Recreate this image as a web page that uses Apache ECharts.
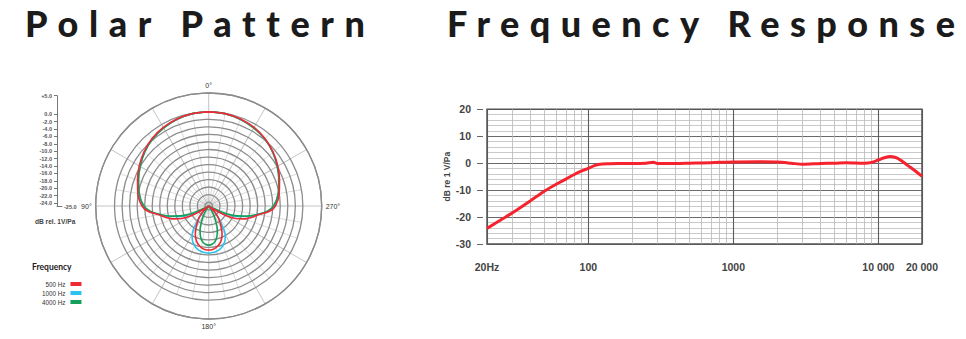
<!DOCTYPE html>
<html><head><meta charset="utf-8">
<script src="https://cdn.jsdelivr.net/npm/echarts@6/dist/echarts.min.js"></script>
<style>html,body{margin:0;padding:0;background:#fff}#c{width:966px;height:339px}</style>
</head><body><div id="c"></div>
<script>
// ---------- Polar pattern data (dB rel. 1V/Pa vs angle in degrees) ----------
const polarAngles = [0,10,20,30,40,50,60,70,80,90,95,100,105,110,115,120,125,130,135,140,145,150,155,160,165,170,175,180,185,190,195,200,205,210,215,220,225,230,235,240,245,250,255,260,265,270,280,290,300,310,320,330,340,350,360];
const red500 = [0,-0.1,-0.4,-0.9,-1.6,-2.6,-3.7,-4.9,-5.9,-7.3,-8.8,-11.6,-13.3,-15.0,-17.2,-20.3,-24.5,-25,-23.0,-21.3,-19.8,-18.3,-16.6,-15.3,-14.4,-13.8,-13.4,-13.3,
  -13.4,-13.8,-14.4,-15.3,-16.6,-18.3,-19.8,-21.3,-23.0,-25,-24.5,-20.3,-17.2,-15.0,-13.3,-11.6,-8.8,
  -7.3,-6.0,-5.0,-3.8,-2.7,-1.7,-0.9,-0.4,-0.1,0];
const blue1000 = [0,-0.1,-0.5,-1.0,-1.8,-2.8,-4.0,-5.1,-6.2,-7.6,-9.1,-11.9,-14.2,-16.8,-20.3,-24.0,-25,-24.3,-22.6,-20.9,-18.8,-16.2,-14.8,-13.9,-13.2,-12.8,-12.6,-12.5,
  -12.6,-12.8,-13.2,-13.9,-14.8,-16.2,-18.8,-20.9,-22.6,-24.3,-25,-24.0,-20.3,-16.8,-14.2,-11.9,-9.1,
  -7.6,-6.2,-5.1,-4.0,-2.8,-1.8,-1.0,-0.5,-0.1,0];
const green4000 = [0,-0.1,-0.5,-1.1,-1.8,-2.8,-4.0,-5.2,-6.3,-7.8,-9.4,-12.0,-14.6,-17.5,-21.3,-25,-25,-25,-25,-25,-24.3,-22.6,-20.6,-18.3,-16.6,-15.4,-14.8,-14.6,
  -14.8,-15.4,-16.6,-18.3,-20.6,-22.6,-24.3,-25,-25,-25,-25,-25,-21.3,-17.5,-14.6,-12.0,-9.4,
  -7.8,-6.3,-5.2,-4.0,-2.8,-1.8,-1.1,-0.5,-0.1,0];
const polarRings = [-24,-22,-20,-18,-16,-14,-12,-10,-8,-6,-4,-2,0,5];
const scaleLabels = [5,0,-2,-4,-6,-8,-10,-12,-14,-16,-18,-20,-22,-24];
const angleLabels = [0,90,180,270];
const seriesNames = ['500 Hz','1000 Hz','4000 Hz'];

// ---------- Frequency response data ----------
const freqHz = [20,25,30,40,50,60,70,80,90,100,110,120,140,160,200,250,280,300,400,500,600,800,1000,1500,2000,2500,3000,4000,5000,6000,8000,9000,10000,11000,12000,13000,14000,16000,18000,20000];
const freqDb = [-24.2,-21.0,-18.4,-13.9,-10.3,-7.8,-5.9,-4.2,-2.9,-1.9,-0.9,-0.4,-0.2,-0.1,-0.1,0.0,0.3,-0.1,-0.1,0.0,0.1,0.3,0.4,0.5,0.4,0.0,-0.4,-0.1,0.0,0.2,0.0,0.3,1.2,2.0,2.5,2.2,1.4,-0.9,-2.9,-4.9];
const xTickValues = [20,100,1000,10000,20000];
const xTickLabels = ['20Hz','100','1000','10 000','20 000'];
const xGridValues = [30,40,50,60,70,80,90,200,300,400,500,600,700,800,900,2000,3000,4000,5000,6000,7000,8000,9000];

const headings = ['Polar Pattern','Frequency Response'];
const headingWidths = [340, 508];

const chart = echarts.init(document.getElementById('c'), null, {renderer:'svg'});
const CX = 208.7, CY = 206, R = 113;
const colors = ['#ee2a35','#2cc3f0','#14a05a'];
const polarData = [red500, blue1000, green4000];

function polarSeries(i){
  return {
    name: seriesNames[i], type:'line', coordinateSystem:'polar', polarIndex:0,
    data: polarAngles.map((a,k)=>[polarData[i][k], a]),
    symbol:'none', smooth:0.35, z: i===0?5:(i===2?4:3),
    lineStyle:{color:colors[i], width:1.6}, itemStyle:{color:colors[i]}
  };
}

const option = {
  animation:false,
  backgroundColor:'#fff',
  title:[
    {text:headings[0], left:25, top:5, padding:0, textStyle:{fontFamily:'Lato', fontWeight:900, fontSize:36, color:'#1b1b1b'}},
    {text:headings[1], left:447, top:5, padding:0, textStyle:{fontFamily:'Lato', fontWeight:900, fontSize:36, color:'#1b1b1b'}},
    {text:'Frequency', left:32, top:262, padding:0, textStyle:{fontFamily:'Lato', fontWeight:'bold', fontSize:8.5, color:'#222'}},
    {text:'dB rel. 1V/Pa', left:35, top:218, padding:0, textStyle:{fontFamily:'Liberation Sans', fontWeight:'bold', fontSize:6.6, color:'#444'}}
  ],
  legend:{
    data:seriesNames, orient:'vertical', left:42, top:280, padding:0, align:'right',
    itemWidth:11, itemHeight:4, itemGap:1, icon:'rect',
    textStyle:{fontFamily:'Liberation Sans', fontSize:6.3, color:'#333', lineHeight:8}
  },
  polar:[
    {center:[CX,CY], radius:R},
    {center:[CX,CY], radius:R*25/30}
  ],
  angleAxis:[
    {polarIndex:0, type:'value', min:0, max:360, interval:30, startAngle:90, clockwise:false,
      axisLine:{show:true, lineStyle:{color:'#8c8c8c', width:1.3}},
      axisTick:{show:false},
      axisLabel:{show:true, margin:4, fontSize:7, color:'#333', fontFamily:'Liberation Sans',
        formatter:v=> (angleLabels.indexOf(v)>=0 && v!==360) ? v+'°' : ''},
      splitLine:{show:true, lineStyle:{color:'#c4c4c4', width:1}}, z:0},
    {polarIndex:1, type:'value', min:0, max:360, interval:10, startAngle:90, clockwise:false,
      axisLine:{show:false}, axisTick:{show:false}, axisLabel:{show:false},
      splitLine:{show:true, lineStyle:{color:'#d2d2d2', width:0.8}}, z:-1}
  ],
  radiusAxis:[
    {polarIndex:0, type:'value', min:-25, max:5,
      axisLine:{show:false}, axisLabel:{show:false},
      axisTick:{show:false, customValues:polarRings},
      splitLine:{show:true, lineStyle:{color:'#8c8c8c', width:1.3}}, z:1},
    {polarIndex:1, type:'value', min:-25, max:0, show:false}
  ],
  grid:[
    {left:487, top:109.3, width:435, height:134.7, show:true, borderColor:'#555', borderWidth:1.5, z:1},
    {left:57, top:95.7, width:5, height:111, show:false}
  ],
  xAxis:[
    {gridIndex:0, type:'log', logBase:10, min:20, max:20000, position:'bottom', offset:4,
      axisLine:{show:false},
      axisTick:{show:true, length:6, lineStyle:{color:'#666', width:1}},
      axisLabel:{show:true, margin:13, fontSize:10.5, fontWeight:'bold', color:'#444', fontFamily:'Liberation Sans',
        showMinLabel:true, showMaxLabel:true,
        formatter:v=>{ let best=0; xTickValues.forEach((t,i)=>{ if(Math.abs(Math.log10(t)-Math.log10(v))<Math.abs(Math.log10(xTickValues[best])-Math.log10(v))) best=i; }); return xTickLabels[best]; }},
      splitLine:{show:true, lineStyle:{color:'#5c5c5c', width:1.1}}},
    {gridIndex:1, type:'value', min:0, max:1,
      axisLine:{show:true, onZero:false, lineStyle:{color:'#777', width:1}},
      axisTick:{show:false}, axisLabel:{show:false}, splitLine:{show:false},
      name:'-25.0', nameLocation:'end', nameGap:2,
      nameTextStyle:{fontSize:5.5, color:'#555', fontWeight:'bold', fontFamily:'Liberation Sans', verticalAlign:'middle'}}
  ],
  yAxis:[
    {gridIndex:0, type:'value', min:-30, max:20, interval:10, offset:4,
      axisLine:{show:false},
      axisTick:{show:true, length:6, lineStyle:{color:'#666', width:1}},
      axisLabel:{margin:12, fontSize:10.5, fontWeight:'bold', color:'#444', fontFamily:'Liberation Sans'},
      splitLine:{show:true, lineStyle:{color:'#6a6a6a', width:1}},
      minorTick:{show:false, splitNumber:5},
      minorSplitLine:{show:true, lineStyle:{color:'#bdbdbd', width:0.8}},
      name:'dB re 1 V/Pa', nameLocation:'middle', nameGap:27, nameRotate:90,
      nameTextStyle:{fontSize:8.5, fontWeight:'bold', color:'#444', fontFamily:'Liberation Sans'}},
    {gridIndex:1, type:'value', min:-25, max:5,
      axisLine:{show:true, onZero:false, lineStyle:{color:'#777', width:1}},
      axisTick:{show:true, length:3, customValues:scaleLabels, lineStyle:{color:'#777'}},
      axisLabel:{show:true, margin:5, fontSize:5.5, fontWeight:'bold', color:'#555', fontFamily:'Liberation Sans',
        customValues:scaleLabels, formatter:v=> (v>0?'+':'')+v.toFixed(1)},
      splitLine:{show:false}}
  ],
  series:[
    polarSeries(1), polarSeries(2), polarSeries(0),
    {type:'line', xAxisIndex:0, yAxisIndex:0, data:[], silent:true, z:1,
      markLine:{silent:true, symbol:'none', label:{show:false},
        lineStyle:{color:'#b8b8b8', width:0.8, type:'solid'},
        data: xGridValues.map(v=>({xAxis:v}))}},
    {name:'response', type:'line', xAxisIndex:0, yAxisIndex:0,
      data: freqHz.map((f,i)=>[f, freqDb[i]]), symbol:'none', smooth:0.3, z:5,
      lineStyle:{color:'#f5232e', width:3}}
  ]
};
chart.setOption(option);

function stretchHeadings(){
  const svg = document.querySelector('#c svg'); if(!svg) return;
  svg.querySelectorAll('text').forEach(t=>{
    const k = headings.indexOf(t.textContent);
    if(k>=0){
      t.setAttribute('textLength', headingWidths[k]);
      t.setAttribute('lengthAdjust','spacing');
      t.style.fontVariantLigatures = 'none';
      t.style.fontFeatureSettings = '"liga" 0';
    }
  });
}
chart.on('finished', stretchHeadings);
try{ chart.getZr().flush(); }catch(e){}
stretchHeadings();
setTimeout(stretchHeadings, 50);
</script></body></html>
